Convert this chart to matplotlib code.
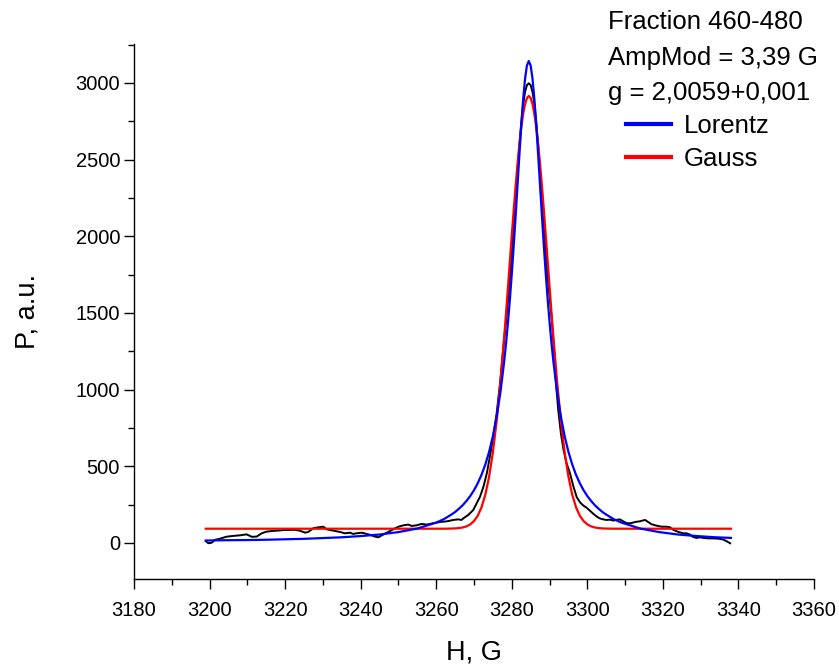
import matplotlib
matplotlib.use("Agg")
import matplotlib.pyplot as plt
from matplotlib.ticker import MultipleLocator

plt.rcParams['font.family'] = ['Liberation Sans', 'DejaVu Sans']

h_exp = [3199.0, 3199.7, 3200.6, 3201.4, 3202.8, 3204.5, 3206.3, 3208.1, 3209.8, 3211.2,
         3212.5, 3213.8, 3215.1, 3216.5, 3217.8, 3219.5, 3221.3, 3222.6, 3223.9, 3225.3,
         3226.1, 3227.5, 3228.8, 3230.1, 3231.0, 3232.8, 3234.5, 3235.8, 3237.2, 3238.0,
         3238.9, 3240.3, 3241.6, 3242.9, 3243.8, 3244.7, 3245.6, 3246.9, 3248.6, 3250.0,
         3251.3, 3252.6, 3253.5, 3254.8, 3256.1, 3257.5, 3259.2, 3261.0, 3262.8, 3264.5,
         3265.8, 3266.7, 3267.2, 3268.5, 3269.8, 3270.7, 3271.6, 3272.5, 3273.4, 3274.2,
         3275.1, 3276.0, 3276.9, 3277.7, 3278.6, 3279.0, 3279.5, 3280.0, 3280.5, 3281.0,
         3281.5, 3282.0, 3282.5, 3283.0, 3283.5, 3284.0, 3284.5, 3285.0, 3285.5, 3286.0,
         3286.5, 3287.0, 3287.5, 3288.0, 3288.5, 3289.0, 3289.5, 3290.1, 3290.6, 3291.2,
         3291.7, 3292.3, 3293.0, 3293.7, 3294.5, 3295.4, 3296.3, 3297.2, 3298.1, 3298.9,
         3299.8, 3300.7, 3301.6, 3302.5, 3303.3, 3304.2, 3305.0, 3306.0, 3306.9, 3307.5,
         3308.6, 3309.5, 3310.4, 3311.3, 3312.2, 3312.9, 3313.9, 3314.6, 3315.3, 3316.1,
         3317.0, 3318.3, 3319.7, 3321.0, 3321.9, 3322.8, 3324.1, 3325.4, 3326.3, 3327.2,
         3328.0, 3328.9, 3329.8, 3330.7, 3332.0, 3333.3, 3334.7, 3336.0, 3336.9, 3337.8]
p_exp = [12, -2, 2, 20, 28, 41, 46, 50, 56, 40,
         42, 63, 74, 78, 80, 84, 85, 86, 80, 67,
         72, 96, 102, 106, 89, 80, 72, 63, 67, 59,
         63, 67, 59, 50, 41, 37, 50, 67, 89, 106,
         115, 120, 111, 115, 124, 120, 128, 137, 141, 150,
         154, 150, 161, 183, 215, 259, 302, 367, 455, 563,
         693, 846, 1042, 1259, 1476, 1585, 1730, 1890, 2060, 2240,
         2420, 2590, 2740, 2860, 2940, 2985, 2998, 2985, 2940, 2860,
         2740, 2590, 2420, 2240, 2060, 1890, 1730, 1585, 1454, 1259,
         1042, 867, 715, 607, 520, 455, 370, 298, 264, 245,
         230, 210, 190, 172, 160, 154, 150, 152, 146, 150,
         154, 141, 130, 128, 134, 138, 141, 146, 150, 137,
         122, 113, 106, 106, 102, 85, 72, 63, 63, 54,
         39, 33, 37, 33, 30, 30, 28, 22, 11, -2]

# Fit curves (at these field values)
h_fit = [3199, 3205, 3210, 3215, 3220, 3225, 3230, 3235, 3240, 3245, 3250, 3255, 3260, 3262,
         3264, 3265, 3266, 3267, 3268, 3269, 3270, 3271, 3272, 3273, 3274, 3275, 3276, 3277,
         3278, 3278.5, 3279, 3279.5, 3280, 3280.5, 3281, 3281.5, 3282, 3282.5, 3283, 3283.5,
         3284, 3284.5, 3285, 3285.5, 3286, 3286.5, 3287, 3287.5, 3288, 3288.5, 3289, 3289.5,
         3290, 3290.5, 3291,
         3292, 3293, 3294, 3295, 3296, 3297, 3298, 3299, 3300, 3301, 3302, 3303, 3304, 3305,
         3307, 3309, 3314, 3319, 3324, 3329, 3334, 3338]
p_lorentz = [16, 18, 19, 21, 24, 27, 32, 37, 45, 55, 71, 94, 133, 155,
             185, 202, 223, 246, 274, 306, 344, 390, 445, 512, 594, 696, 824, 984,
             1186, 1306, 1440, 1590, 1754, 1933, 2125, 2324, 2525, 2717, 2889, 3025,
             3113, 3143, 3113, 3025, 2889, 2717, 2525, 2324, 2125, 1933, 1754, 1590,
             1440, 1306, 1186,
             984, 824, 696, 594, 512, 445, 390, 344, 306, 274, 246, 223, 202, 185,
             155, 133, 94, 71, 55, 45, 37, 33]
p_gauss = [93, 93, 93, 93, 93, 93, 93, 93, 93, 93, 93, 93, 93, 93,
           94, 95, 97, 101, 108, 121, 143, 178, 233, 315, 432, 591, 797, 1050,
           1346, 1505, 1671, 1838, 2005, 2168, 2323, 2467, 2596, 2706, 2796, 2861,
           2901, 2915, 2901, 2861, 2796, 2706, 2596, 2467, 2323, 2168, 2005, 1838,
           1671, 1505, 1346,
           1050, 797, 591, 432, 315, 233, 178, 143, 121, 108, 101, 97, 95, 94,
           93, 93, 93, 93, 93, 93, 93, 93]

info_lines = ["Fraction 460-480", "AmpMod = 3,39 G", "g = 2,0059+0,001"]

W, H = 839, 669
fig = plt.figure(figsize=(W / 100, H / 100), dpi=100)
ax = fig.add_axes([134 / W, 1 - 579 / H, (814 - 134) / W, (579 - 44) / H])

ax.plot(h_exp, p_exp, color='black', lw=1.4, zorder=2)
ax.plot(h_fit, p_gauss, color='#ff0000', lw=1.6, zorder=3, label='Gauss')
ax.plot(h_fit, p_lorentz, color='#0000ff', lw=1.6, zorder=4, label='Lorentz')

ax.set_xlim(3180, 3360)
ax.set_ylim(-235, 3254)
ax.xaxis.set_major_locator(MultipleLocator(20))
ax.xaxis.set_minor_locator(MultipleLocator(10))
ax.yaxis.set_major_locator(MultipleLocator(500))
ax.yaxis.set_minor_locator(MultipleLocator(250))
for s in ('top', 'right'):
    ax.spines[s].set_visible(False)
for s in ('left', 'bottom'):
    ax.spines[s].set_linewidth(1.0)
ax.tick_params(which='major', direction='out', length=7, width=1.0, labelsize=14.5)
ax.tick_params(axis='x', which='major', pad=9)
ax.tick_params(axis='y', which='major', pad=3)
ax.tick_params(which='minor', direction='out', length=4, width=1.0)
ax.set_xlabel("H, G", fontsize=19.5, labelpad=14)
ax.set_ylabel("P, a.u.", fontsize=19.5, labelpad=25)

for i, t in enumerate(info_lines):
    fig.text(608 / W, 1 - (22 + 35.5 * i) / H, t, fontsize=18.5, va='center', ha='left')

handles, labels = ax.get_legend_handles_labels()
order = [labels.index('Lorentz'), labels.index('Gauss')]
leg = fig.legend([handles[i] for i in order], [labels[i] for i in order],
                 loc='upper left', bbox_to_anchor=(626 / W, 1 - 114 / H),
                 frameon=False, fontsize=18.5, handlelength=1.75, handletextpad=0.5,
                 labelspacing=0.35, borderpad=0, borderaxespad=0)
for ln in leg.get_lines():
    ln.set_linewidth(3)

fig.savefig("out.png", dpi=100)
